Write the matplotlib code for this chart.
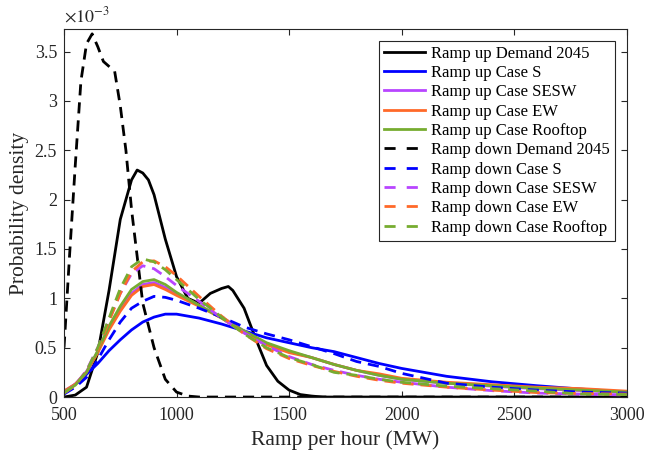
import matplotlib.pyplot as plt
import numpy as np

plt.rcParams['font.family'] = ['Liberation Serif', 'DejaVu Serif']
plt.rcParams['mathtext.fontset'] = 'stix'

# probability density of hourly ramps, values in units of 1e-3
ramp_grid = [500, 550, 600, 650, 700, 750, 800, 850, 900, 950, 1000, 1100, 1200,
             1300, 1400, 1500, 1600, 1700, 1800, 1900, 2000, 2200, 2400, 2600, 2800, 3000]

up_demand_x = [500, 550, 600, 650, 700, 750, 800, 825, 850, 875, 900, 950, 1000, 1050,
               1100, 1150, 1200, 1230, 1250, 1300, 1350, 1400, 1450, 1500, 1550, 1600,
               1650, 3000]
up_demand = [0.0, 0.02, 0.1, 0.45, 1.08, 1.8, 2.2, 2.3, 2.27, 2.2, 2.05, 1.6, 1.22, 1.0,
             0.95, 1.05, 1.1, 1.12, 1.08, 0.9, 0.6, 0.32, 0.16, 0.07, 0.025, 0.01, 0.0, 0.0]

up_s = [0.05, 0.13, 0.23, 0.34, 0.47, 0.58, 0.68, 0.76, 0.81, 0.84, 0.84, 0.80, 0.74,
        0.67, 0.60, 0.55, 0.50, 0.46, 0.40, 0.34, 0.29, 0.21, 0.155, 0.115, 0.08, 0.05]
up_sesw = [0.06, 0.13, 0.26, 0.46, 0.70, 0.89, 1.05, 1.14, 1.16, 1.11, 1.05, 0.93, 0.81,
           0.67, 0.54, 0.46, 0.40, 0.33, 0.27, 0.22, 0.18, 0.14, 0.11, 0.085, 0.065, 0.045]
up_ew = [0.06, 0.13, 0.25, 0.45, 0.68, 0.87, 1.03, 1.12, 1.14, 1.09, 1.03, 0.92, 0.80,
         0.65, 0.53, 0.45, 0.40, 0.33, 0.27, 0.235, 0.19, 0.15, 0.125, 0.10, 0.085, 0.06]
up_rooftop = [0.05, 0.12, 0.25, 0.47, 0.72, 0.92, 1.09, 1.17, 1.19, 1.14, 1.06, 0.93, 0.80,
              0.67, 0.55, 0.47, 0.40, 0.33, 0.27, 0.22, 0.18, 0.14, 0.115, 0.09, 0.07, 0.05]

down_demand_x = [500, 525, 550, 575, 600, 625, 650, 675, 700, 725, 750, 775, 800, 850,
                 900, 950, 1000, 1050, 1100, 3000]
down_demand = [0.5, 1.45, 2.35, 3.2, 3.58, 3.68, 3.55, 3.4, 3.35, 3.3, 2.95, 2.5, 1.9,
               0.95, 0.5, 0.18, 0.05, 0.01, 0.0, 0.0]

down_s = [0.03, 0.1, 0.2, 0.38, 0.58, 0.76, 0.9, 0.97, 1.02, 1.01, 0.98, 0.90, 0.81,
          0.71, 0.64, 0.58, 0.51, 0.44, 0.36, 0.31, 0.24, 0.14, 0.1, 0.07, 0.05, 0.04]
down_sesw = [0.04, 0.12, 0.27, 0.5, 0.78, 1.05, 1.25, 1.33, 1.30, 1.22, 1.13, 0.97, 0.80,
             0.65, 0.52, 0.41, 0.33, 0.27, 0.22, 0.18, 0.15, 0.10, 0.065, 0.04, 0.03, 0.02]
down_ew = [0.04, 0.12, 0.26, 0.48, 0.77, 1.05, 1.27, 1.37, 1.38, 1.32, 1.23, 1.02, 0.82,
           0.64, 0.49, 0.39, 0.32, 0.26, 0.21, 0.17, 0.14, 0.10, 0.07, 0.045, 0.035, 0.03]
down_rooftop = [0.04, 0.12, 0.26, 0.5, 0.8, 1.1, 1.32, 1.40, 1.37, 1.29, 1.19, 0.99, 0.81,
                0.64, 0.50, 0.40, 0.33, 0.25, 0.22, 0.18, 0.15, 0.11, 0.085, 0.06, 0.03, 0.025]

case_names = ['Demand 2045', 'Case S', 'Case SESW', 'Case EW', 'Case Rooftop']
colors = ['#000000', '#0000FF', '#B845FF', '#FF6929', '#77AC30']

x_ticks = [500, 1000, 1500, 2000, 2500, 3000]
y_ticks = [0, 0.5, 1, 1.5, 2, 2.5, 3, 3.5]

up_series = [(up_demand_x, up_demand), (ramp_grid, up_s), (ramp_grid, up_sesw),
             (ramp_grid, up_ew), (ramp_grid, up_rooftop)]
down_series = [(down_demand_x, down_demand), (ramp_grid, down_s), (ramp_grid, down_sesw),
               (ramp_grid, down_ew), (ramp_grid, down_rooftop)]

fig = plt.figure(figsize=(6.48, 4.59), dpi=100)
ax = fig.add_axes([0.0988, 0.135, 0.8683, 0.802])

lw = 2.0
for (x, y), name, c in zip(up_series, case_names, colors):
    ax.plot(x, y, color=c, lw=lw, label='Ramp up ' + name)
for (x, y), name, c in zip(down_series, case_names, colors):
    ax.plot(x, y, color=c, lw=lw, ls=(0, (4, 2.5)), label='Ramp down ' + name)

ax.set_xlim(500, 3000)
ax.set_ylim(0, 3.73)
ax.set_xticks(x_ticks)
ax.set_yticks(y_ticks)
ax.set_xticklabels([str(v) for v in x_ticks])
ax.set_yticklabels(['%g' % v for v in y_ticks])
ax.tick_params(direction='in', length=4, width=0.8, labelsize=13, colors='#262626',
               top=True, right=True)
ax.tick_params(axis='x', pad=7)
ax.tick_params(axis='y', pad=5)
for sp in ax.spines.values():
    sp.set_color('#262626')
    sp.set_linewidth(0.8)

ax.set_xlabel('Ramp per hour (MW)', fontsize=15.5, color='#262626', labelpad=5)
ax.set_ylabel('Probability density', fontsize=15.5, color='#262626', labelpad=4)
ax.text(0.0, 1.008, r'$\times10^{-3}$', transform=ax.transAxes, fontsize=13,
        ha='left', va='bottom', color='#262626')

leg = ax.legend(loc='upper right', fontsize=12, frameon=True, fancybox=False,
                edgecolor='#262626', framealpha=1, handlelength=2.5, handletextpad=0.35,
                labelspacing=0.2, borderaxespad=0.7, borderpad=0.3)
leg.get_frame().set_linewidth(0.8)
for h in leg.get_lines()[5:]:
    h.set_dashes([4, 4])

fig.savefig('out.png', dpi=100)
